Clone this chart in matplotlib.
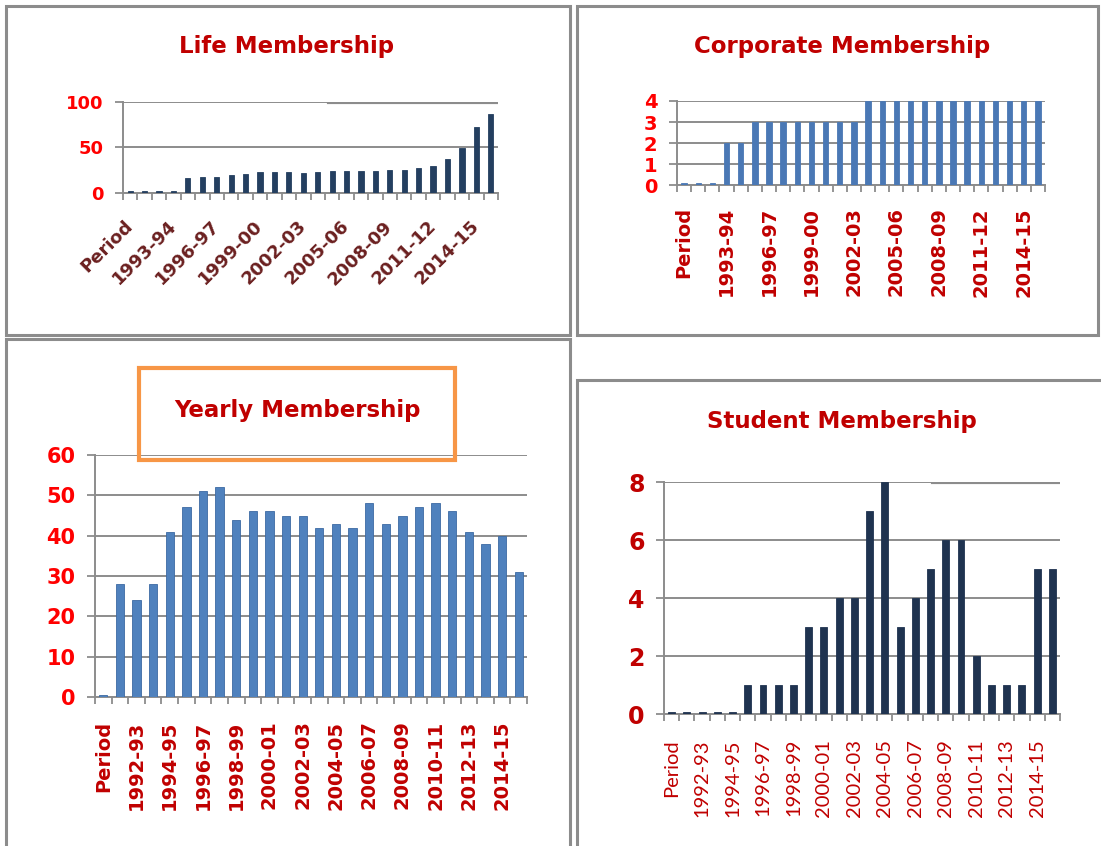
import matplotlib
matplotlib.use("Agg")
import matplotlib.pyplot as plt
from matplotlib.patches import Rectangle
import numpy as np

W, H = 1101, 846

periods = ["Period", "1991-92", "1992-93", "1993-94", "1994-95", "1995-96", "1996-97",
           "1997-98", "1998-99", "1999-00", "2000-01", "2001-02", "2002-03", "2003-04",
           "2004-05", "2005-06", "2006-07", "2007-08", "2008-09", "2009-10", "2010-11",
           "2011-12", "2012-13", "2013-14", "2014-15", "2015-16"]

life_values = [2, 2, 2, 2, 16, 18, 18, 20, 21, 23, 23, 23, 22, 23, 24, 24, 24, 24,
               25, 25, 28, 30, 37, 49, 73, 87]
corporate_values = [0.1, 0.1, 0.1, 2, 2, 3, 3, 3, 3, 3, 3, 3, 3, 4, 4, 4, 4, 4, 4,
                    4, 4, 4, 4, 4, 4, 4]
yearly_values = [0.5, 28, 24, 28, 41, 47, 51, 52, 44, 46, 46, 45, 45, 42, 43, 42, 48,
                 43, 45, 47, 48, 46, 41, 38, 40, 31]
student_values = [0.08, 0.08, 0.08, 0.08, 0.08, 1, 1, 1, 1, 3, 3, 4, 4, 7, 8, 3, 4, 5,
                  6, 6, 2, 1, 1, 1, 5, 5]

titles = ["Life Membership", "Corporate Membership", "Yearly Membership", "Student Membership"]

fig = plt.figure(figsize=(W / 100, H / 100), dpi=100)
fig.patch.set_facecolor("white")


def rect_px(x0, y0, x1, y1):
    return [x0 / W, 1 - y1 / H, (x1 - x0) / W, (y1 - y0) / H]


# panel borders
border_col = "#8c8c8c"
for (x0, y0, x1, y1) in [(6, 6, 570, 335), (577, 6, 1098, 335), (6, 339, 570, 850),
                         (577, 380, 1106, 850)]:
    fig.patches.append(Rectangle((x0 / W, 1 - y1 / H), (x1 - x0) / W, (y1 - y0) / H,
                                 transform=fig.transFigure, fill=False,
                                 edgecolor=border_col, linewidth=2.2))

title_col = "#c00000"
tkw = dict(ha="center", va="center", color=title_col, fontsize=16.5, fontweight="bold")
fig.text(287 / W, 1 - 46 / H, titles[0], **tkw)
fig.text(842 / W, 1 - 46 / H, titles[1], **tkw)
fig.text(297 / W, 1 - 410 / H, titles[2], **tkw)
fig.patches.append(Rectangle((139 / W, 1 - 460 / H), (455 - 139) / W, (460 - 368) / H,
                             transform=fig.transFigure, fill=False,
                             edgecolor="#f79646", linewidth=3))
fig.text(842 / W, 1 - 421 / H, titles[3], **tkw)

grid_col = "#8c8c8c"
x = np.arange(len(periods))


def setup(ax, values, color, width, ymax, yticks, step, ylab_kw, xlab_kw, rot, pad_x,
          edge=None):
    ax.bar(x, values, width=width, color=color, edgecolor=edge if edge else color,
           linewidth=0.6, zorder=3)
    ax.set_xlim(-0.5, len(periods) - 0.5)
    ax.set_ylim(0, ymax)
    ax.set_yticks(yticks)
    ax.set_yticklabels([str(t) for t in yticks], **ylab_kw)
    ax.yaxis.grid(True, color=grid_col, linewidth=1.4, zorder=0)
    ax.set_axisbelow(True)
    idx = list(range(0, len(periods), step))
    ax.set_xticks(idx)
    ax.set_xticklabels([periods[i] for i in idx], rotation=rot, **xlab_kw)
    ax.set_xticks(np.arange(-0.5, len(periods), 1.0), minor=True)
    ax.tick_params(axis="x", which="major", length=0, pad=pad_x)
    ax.tick_params(axis="x", which="minor", length=5, width=1.3, color=grid_col)
    ax.tick_params(axis="y", length=6, width=1.3, color=grid_col, pad=8)
    for s in ["top", "right"]:
        ax.spines[s].set_visible(False)
    for s in ["left", "bottom"]:
        ax.spines[s].set_color(grid_col)
        ax.spines[s].set_linewidth(1.4)
    ax.set_facecolor("white")


# Life
ax1 = fig.add_axes(rect_px(123, 102, 498, 193))
setup(ax1, life_values, "#243f60", 0.36, 100, [0, 50, 100], 3,
      dict(color="#ff0000", fontsize=13, fontweight="bold"),
      dict(color="#6b2020", fontsize=13, fontweight="bold", ha="right", va="center",
           rotation_mode="anchor"), 45, 22)
ax1.axhline(100, xmin=0.55, xmax=1, color="#8c8c8c", linewidth=3, zorder=4)

# Corporate
ax2 = fig.add_axes(rect_px(677, 101, 1045, 185))
setup(ax2, corporate_values, "#4a78b5", 0.38, 4, [0, 1, 2, 3, 4], 3,
      dict(color="#ff0000", fontsize=14, fontweight="bold"),
      dict(color="#c00000", fontsize=14, fontweight="bold", ha="center", va="top"),
      90, 16)

# Yearly
ax3 = fig.add_axes(rect_px(95, 455, 527, 697))
setup(ax3, yearly_values, "#4f81bd", 0.5, 60, [0, 10, 20, 30, 40, 50, 60], 2,
      dict(color="#ff0000", fontsize=15, fontweight="bold"),
      dict(color="#c00000", fontsize=14, fontweight="bold", ha="center", va="top"),
      90, 17, edge="#3c6aa3")

# Student
ax4 = fig.add_axes(rect_px(664, 482, 1060, 714))
setup(ax4, student_values, "#1f3350", 0.45, 8, [0, 2, 4, 6, 8], 2,
      dict(color="#c00000", fontsize=17, fontweight="bold"),
      dict(color="#c00000", fontsize=14.5, family="Lato", ha="center", va="top"),
      90, 18)
ax4.axhline(8, xmin=0.68, xmax=1, color="#8c8c8c", linewidth=3, zorder=4)

fig.savefig("out.png", dpi=100, facecolor="white")
